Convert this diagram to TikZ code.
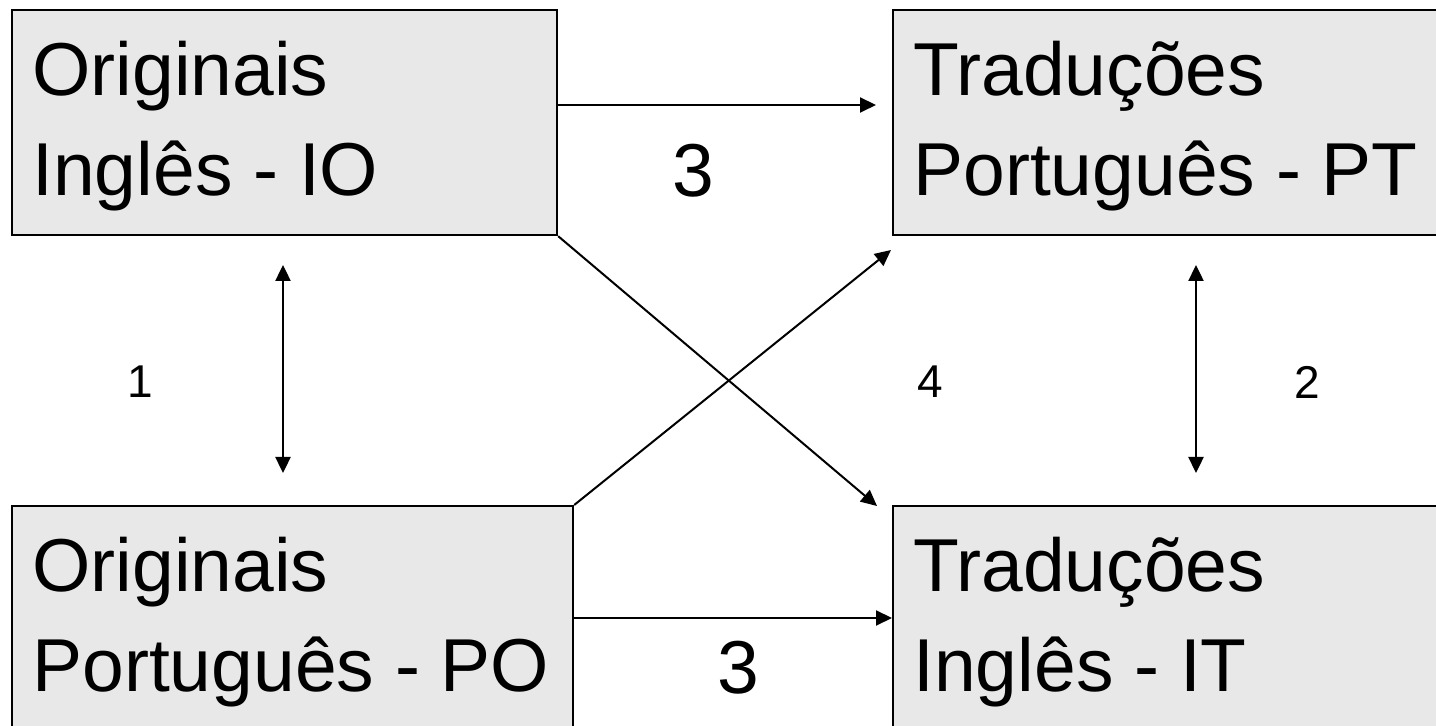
\documentclass[tikz,border=0pt]{standalone}
\usepackage{fontspec}
\setmainfont{Liberation Sans}
\usetikzlibrary{arrows.meta}
\begin{document}
\begin{tikzpicture}[x=0.5pt,y=-0.5pt,
  box/.style={draw=black, line width=1.1pt, fill=boxgray, anchor=north west, inner sep=0pt},
  line1/.style={anchor=base west, inner sep=0pt, font=\fontsize{37.5}{45}\selectfont},
  num/.style={inner sep=0pt, font=\fontsize{37.5}{45}\selectfont},
  small/.style={inner sep=0pt, font=\fontsize{23}{28}\selectfont},
  link/.style={line width=1pt, -{Triangle[length=8pt,width=7.5pt]}},
  both/.style={line width=1.2pt, {Triangle[length=8pt,width=7.5pt]}-{Triangle[length=8pt,width=7.5pt]}}]
\definecolor{boxgray}{HTML}{E8E8E8}
\useasboundingbox (0,0) rectangle (1436,726);
\clip (0,0) rectangle (1436,726);

% the four corpus boxes
\node[box, minimum width=272.5pt, minimum height=112.5pt] (io) at (11,9) {};
\node[box, minimum width=280pt, minimum height=112.5pt] (pt) at (892,9) {};
\node[box, minimum width=280.5pt, minimum height=118pt] (po) at (11,505) {};
\node[box, minimum width=280pt, minimum height=118pt] (it) at (892,505) {};

% box texts
\node[line1] (io1) at (32,96) {Originais};
\node[line1] (io2) at (32,196) {Inglês - IO};
\node[line1] (pt1) at (913,96) {Traduções};
\node[line1] (pt2) at (913,196) {Português - PT};
\node[line1] (po1) at (32,592) {Originais};
\node[line1] (po2) at (32,692) {Português - PO};
\node[line1] (it1) at (913,592) {Traduções};
\node[line1] (it2) at (913,692) {Inglês - IT};

% connector end points
\coordinate (a1s) at (556,105);
\coordinate (a1e) at (876,105);
\coordinate (a2s) at (572,618);
\coordinate (a2e) at (892,618);
\coordinate (x1e) at (877,506);
\coordinate (x2e) at (891,250);
\coordinate (v1s) at (283,265);
\coordinate (v1e) at (283,473);
\coordinate (v2s) at (1196,265);
\coordinate (v2e) at (1196,473);

% connectors
\draw[link] (a1s) -- (a1e);
\draw[link] (a2s) -- (a2e);
\draw[link] (io.south east) -- (x1e);
\draw[link] (po.north east) -- (x2e);
\draw[both] (v1s) -- (v1e);
\draw[both] (v2s) -- (v2e);

% connector labels
\node[num] (l3a) at (693,171) {3};
\node[num] (l3b) at (738,668) {3};
\node[small] (l1) at (140,382) {1};
\node[small] (l4) at (930,382) {4};
\node[small] (l2) at (1307,382) {2};
\end{tikzpicture}
\end{document}
